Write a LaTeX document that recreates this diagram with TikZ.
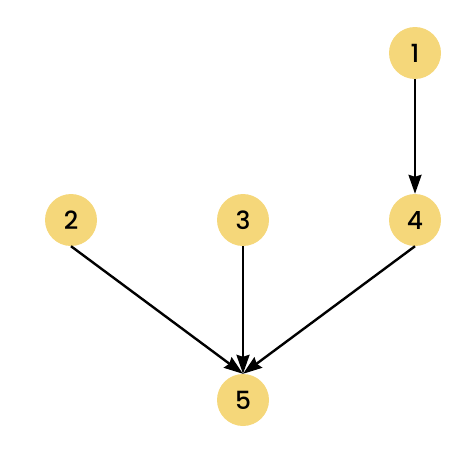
\documentclass[tikz,border=0pt]{standalone}
\usepackage{fontspec}
\setmainfont{Poppins}[UprightFont=* Medium]
\usetikzlibrary{arrows.meta}
\definecolor{nodefill}{HTML}{F5D77A}
\begin{document}
\begin{tikzpicture}[x=1pt,y=-1pt,
  vertex/.style={circle,fill=nodefill,minimum size=52pt,inner sep=0pt,font=\fontsize{25pt}{28pt}\selectfont},
  edge/.style={line width=2.4pt,-{Stealth[length=19pt,width=13pt,inset=2pt]}}]
\useasboundingbox (0,0) rectangle (470,464);
\node[vertex] (n1) at (415,53) {1};
\node[vertex] (n2) at (71,220) {2};
\node[vertex] (n3) at (243,220) {3};
\node[vertex] (n4) at (415,220) {4};
\node[vertex] (n5) at (243,400) {5};
\draw[edge] (n1.south) -- (n4.north);
\draw[edge] (n2.south) -- (n5.north);
\draw[edge] (n3.south) -- (n5.north);
\draw[edge] (n4.south) -- (n5.north);
\end{tikzpicture}
\end{document}
